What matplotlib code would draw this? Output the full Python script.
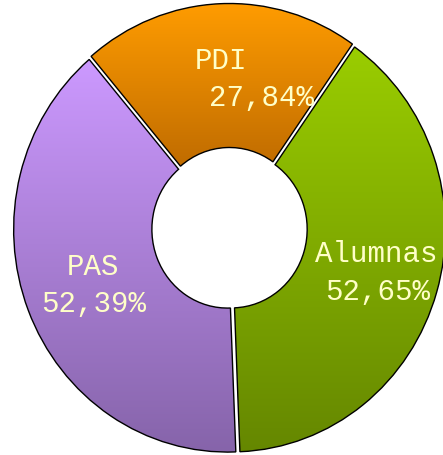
import numpy as np
import matplotlib
matplotlib.use("Agg")
import matplotlib.pyplot as plt
from matplotlib.colors import LinearSegmentedColormap

# datos del gráfico
categorias = ["PDI", "Alumnas", "PAS"]
valores = [27.84, 52.65, 52.39]
etiquetas_pct = ["27,84%", "52,65%", "52,39%"]

# colores del degradado (arriba, abajo)
color_arriba = ["#ff9c00", "#9acd00", "#cc99ff"]
color_abajo = ["#c06c00", "#658700", "#8664aa"]

W, H = 443, 456
cx, cy = 229.5, 229.5   # centro en píxeles (desde arriba)
rx, ry = 216.0, 225.0   # radios en píxeles

fig = plt.figure(figsize=(W / 100, H / 100), dpi=100)
ax = fig.add_axes([0, 0, 1, 1])
ax.set_axis_off()

wedges, _ = ax.pie(valores, startangle=130.3, counterclock=False,
                   explode=[0.01] * 3, radius=0.99,
                   wedgeprops=dict(width=0.64, facecolor="none",
                                   edgecolor="black", linewidth=1.0))

for w, c1, c2 in zip(wedges, color_arriba, color_abajo):
    w.set_zorder(3)
    bb = w.get_path().get_extents(w.get_patch_transform())
    cmap = LinearSegmentedColormap.from_list("g", [c2, c1])
    grad = np.linspace(0, 1, 256).reshape(-1, 1)
    im = ax.imshow(grad, cmap=cmap, origin="lower", aspect="auto",
                   extent=[bb.x0, bb.x1, bb.y0, bb.y1], zorder=2,
                   interpolation="bilinear")
    im.set_clip_path(w)

ax.set_xlim(-cx / rx, (W - cx) / rx)
ax.set_ylim(-(H - cy) / ry, cy / ry)


def px(x, y):
    return (x - cx) / rx, (cy - y) / ry


fuente = dict(family=["Liberation Mono", "DejaVu Sans Mono"], fontsize=21,
              color="#ffffc8", ha="center", va="center", zorder=5)

pos_nombre = [px(221, 61), px(376, 254), px(93, 267)]
pos_pct = [px(262, 98), px(378, 292), px(94, 304)]

for nombre, pct, p1, p2 in zip(categorias, etiquetas_pct, pos_nombre, pos_pct):
    ax.text(p1[0], p1[1], nombre, **fuente)
    ax.text(p2[0], p2[1], pct, **fuente)

fig.savefig("out.png", dpi=100)
